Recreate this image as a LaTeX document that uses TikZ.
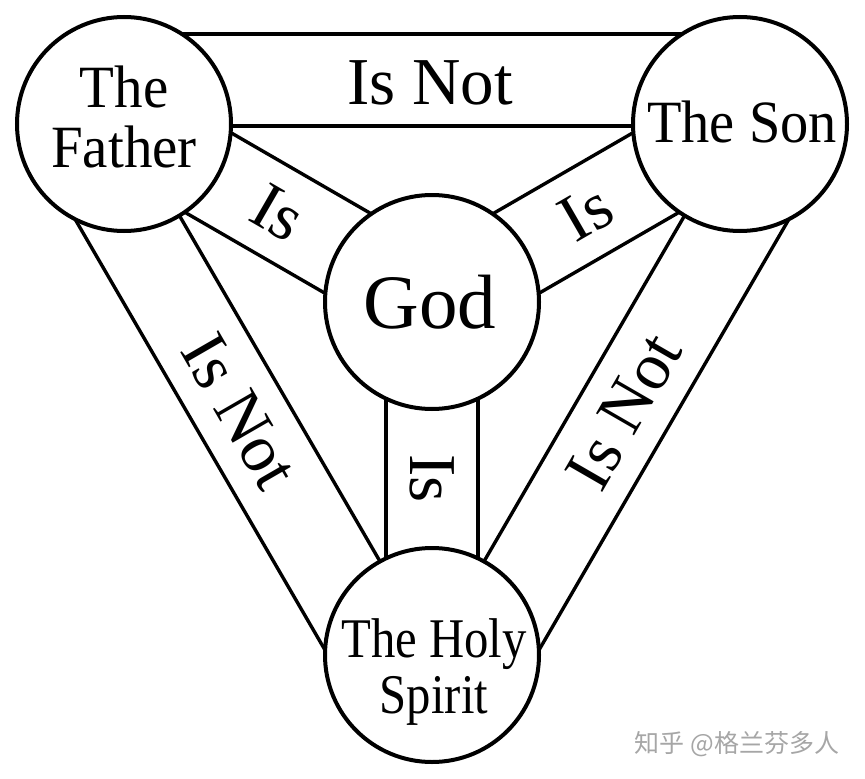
\documentclass[tikz,border=0pt]{standalone}
\usepackage{fontspec}
\setmainfont{Liberation Serif}
\newfontfamily\cjkfont{Noto Sans CJK SC}
\usetikzlibrary{calc}
\tikzset{
  band/.style={line width=3.4pt},
  person/.style={circle, draw, line width=4pt, fill=white, minimum size=214pt, inner sep=0pt},
  lbl/.style={inner sep=0pt, font=\fontsize{67}{67}\selectfont},
  ctext/.style={inner sep=0pt, align=center},
}
\begin{document}
\begin{tikzpicture}[x=1pt,y=-1pt]
\useasboundingbox (0,0) rectangle (865,779);
\coordinate (cF) at (124,124);
\coordinate (cS) at (740,124);
\coordinate (cG) at (432,302);
\coordinate (cH) at (432,655);
% Father -- Son
\draw[band] ($(cF)+(0,-90)$) -- ($(cS)+(0,-90)$);
\draw[band] ($(cF)+(0,2)$) -- ($(cS)+(0,2)$);
% Father -- Holy Spirit
\draw[band] ($(cF)+(-77.9,45.2)$) -- ($(cH)+(-77.9,45.2)$);
\draw[band] ($(cF)+(1.7,-1)$) -- ($(cH)+(1.7,-1)$);
% Son -- Holy Spirit
\draw[band] ($(cS)+(77.9,45.2)$) -- ($(cH)+(77.9,45.2)$);
\draw[band] ($(cS)+(-1.7,-1)$) -- ($(cH)+(-1.7,-1)$);
% Father -- God
\draw[band] ($(cF)+(-23,39.8)$) -- ($(cG)+(-23,39.8)$);
\draw[band] ($(cF)+(23,-39.8)$) -- ($(cG)+(23,-39.8)$);
% Son -- God
\draw[band] ($(cS)+(23,39.8)$) -- ($(cG)+(23,39.8)$);
\draw[band] ($(cS)+(-23,-39.8)$) -- ($(cG)+(-23,-39.8)$);
% God -- Holy Spirit
\draw[band] ($(cG)+(-46,0)$) -- ($(cH)+(-46,0)$);
\draw[band] ($(cG)+(46,0)$) -- ($(cH)+(46,0)$);
% circles
\node[person] (F) at (cF) {};
\node[person] (S) at (cS) {};
\node[person] (G) at (cG) {};
\node[person] (H) at (cH) {};
% circle texts
\node[ctext, font=\fontsize{60}{60}\selectfont, xscale=.95] (tF) at (124,116.5) {The\\Father};
\node[ctext, font=\fontsize{60}{60}\selectfont, xscale=.94] (tS) at (742,121.5) {The Son};
\node[ctext, font=\fontsize{77}{77}\selectfont] (tG) at (430,302) {God};
\node[ctext, font=\fontsize{56}{56}\selectfont, xscale=.87] (tH) at (434,672) {The Holy\\Spirit};
% band labels
\node[lbl] (l1) at (430,83) {Is Not};
\node[lbl, rotate=-30] (l2) at ($(cF)!0.5!(cG)$) {Is};
\node[lbl, rotate=30] (l3) at ($(cS)!0.5!(cG)$) {Is};
\node[lbl, rotate=-90] (l4) at ($(cG)!0.5!(cH)$) {Is};
\node[lbl, rotate=-60] (l5) at ($(cF)!0.5!(cH)+(-38.1,22.1)$) {Is Not};
\node[lbl, rotate=60] (l6) at ($(cS)!0.5!(cH)+(38.1,22.1)$) {Is Not};
% watermark
\node[inner sep=0pt, font=\cjkfont\fontsize{25}{25}\selectfont, text=black!35] (wm) at (737,744) {知乎 @格兰芬多人};
\end{tikzpicture}
\end{document}
